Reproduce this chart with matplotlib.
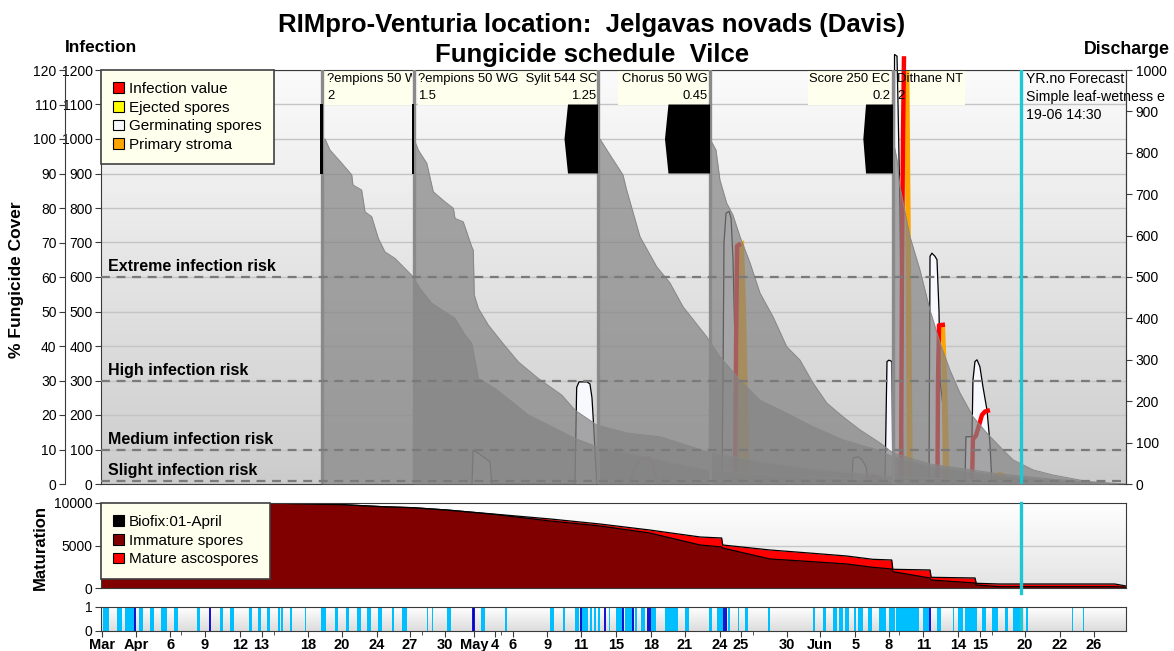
import numpy as np
import matplotlib

matplotlib.use("Agg")
import matplotlib.pyplot as plt
from matplotlib.patches import Rectangle, Patch
from matplotlib.colors import LinearSegmentedColormap

plt.rcParams['font.family'] = ['Liberation Sans', 'DejaVu Sans']

# x axis is in days since 30 March
n_days = 91
tick_days = [0.08, 3.14, 6.14, 9.21, 12.32, 14.26, 18.38, 21.36, 24.5, 27.39, 30.54,
             33.14, 34.98, 36.58, 39.63, 42.63, 45.76, 48.83, 51.83, 54.95, 56.79,
             60.92, 63.83, 66.98, 69.96, 73.01, 76.08, 78.06, 82.03, 85.11, 88.16]
tick_labels = ["Mar", "Apr", "6", "9", "12", "13", "18", "20", "24", "27", "30",
               "May", "4", "6", "9", "11", "15", "18", "21", "24", "25",
               "30", "Jun", "5", "8", "11", "14", "15", "20", "22", "26"]
minor_days = [7.12, 15.39, 28.49, 35.53, 57.86, 70.85, 79.06]
now_day = 81.72

# fungicide applications
app_days = [19.62, 27.79, 44.12, 54.07, 70.31]
# label boxes: (start, end) day
label_boxes = [(19.8, 27.61), (28.15, 44.03), (45.9, 53.98), (62.77, 70.13), (70.49, 76.7)]
# (box index, day, text line 1, text line 2, alignment)
label_texts = [
    (0, 20.06, "?empions 50 WG", "2", "left"),
    (1, 28.14, "?empions 50 WG  Sylit 544 SC", "1.5", "left"),
    (1, 43.95, "", "1.25", "right"),
    (2, 53.9, "Chorus 50 WG", "0.45", "right"),
    (3, 70.05, "Score 250 EC", "0.2", "right"),
    (4, 70.67, "Dithane NT", "2", "left"),
]

# black rain blocks (day, infection-scale value)
rain_blocks = [
    ([19.44, 19.44, 19.67, 19.67], [900, 1100, 1100, 900]),
    ([27.61, 27.61, 27.83, 27.83], [900, 1100, 1100, 900]),
    ([41.46, 41.15, 41.46, 44.12, 44.12], [1100, 1000, 900, 900, 1100]),
    ([50.38, 50.07, 50.38, 54.07, 54.07], [1100, 1000, 900, 900, 1100]),
    ([67.92, 67.68, 67.92, 70.31, 70.31], [1100, 1000, 900, 900, 1100]),
]

# fungicide cover (%) after each application
cover1_day = [19.62, 19.89, 20.33, 21.37, 22.26, 22.37, 23.14, 23.44, 24.03, 24.62, 25.21,
              26.10, 27.28, 27.70, 28.32, 29.36, 30.54, 31.43, 32.32, 32.91, 33.50, 34.98,
              36.46, 37.94, 39.42, 42.08, 44.03, 48.74, 53.80, 62.06, 70.93, 79.81, 84.25]
cover1_pct = [100, 100, 96.8, 93.0, 89.6, 86.7, 85.2, 78.9, 77.5, 71.2, 67.3,
              65.4, 61.5, 60.1, 56.7, 52.4, 49.9, 48.0, 43.2, 40.8, 30.6, 27.7,
              23.9, 20.0, 17.6, 13.2, 10.8, 7.5, 4.1, 2.0, 0.9, 0.3, 0]
cover2_day = [27.79, 28.17, 28.92, 29.50, 30.54, 31.28, 31.43, 32.16, 32.91, 33.05, 33.14,
              33.50, 34.38, 35.57, 37.05, 38.82, 40.90, 42.08, 44.01, 46.67, 49.63, 53.77,
              58.5, 63.83, 70.93, 79.81, 86.9]
cover2_pct = [100, 96.8, 93.0, 84.7, 81.8, 79.9, 77.0, 76.0, 68.8, 67.8, 54.8,
              50.9, 46.1, 41.2, 35.4, 30.6, 25.8, 21.4, 17.1, 14.8, 13.7, 9.4,
              6.4, 4.1, 2.0, 0.9, 0]
cover3_day = [44.12, 44.30, 45.19, 46.34, 46.67, 47.85, 49.33, 50.51, 51.67, 53.77, 54.95,
              56.73, 58.50, 60.88, 63.21, 65.87, 68.87, 70.31, 73.6, 79.81, 85.14, 90.47]
cover3_pct = [100, 100, 95.4, 89.6, 85.2, 71.7, 63.0, 58.3, 51.4, 42.7, 36.9,
              30.1, 24.3, 20.5, 16.6, 12.8, 9.9, 7.9, 5.2, 2.3, 0.9, 0]
cover4_day = [54.07, 54.6, 54.95, 55.55, 56.1, 56.73, 57.62, 58.5, 59.66, 60.88, 62.06,
              63.21, 64.43, 65.87, 67.38, 69.16, 70.31, 73.6, 79.8, 85.1, 91]
cover4_pct = [100, 96.8, 88.1, 81.4, 78, 71.7, 64.1, 55.4, 48.5, 39.8, 35.9,
              29.3, 23.5, 19.5, 15.7, 11.9, 9.0, 5.8, 2.9, 1.2, 0]
cover5_day = [70.31, 70.67, 70.93, 71.82, 72.71, 73.60, 74.49, 75.37, 76.26, 77.42, 78.63,
              79.81, 80.97, 82.74, 84.52, 87.8, 89.6]
cover5_pct = [100, 93.9, 86.2, 71.7, 62.0, 50.4, 40.9, 33.0, 26.4, 19.5, 14.8,
              10.8, 7.0, 4.1, 2.6, 0.6, 0]

# germinating spores
germ_day = [32.94, 33.03, 33.50, 34.54, 34.69,
            42.08, 42.23, 42.44, 43.15, 43.41, 43.59, 43.77, 44.01,
            55.13, 55.22, 55.31, 55.49, 55.76, 55.94, 56.11, 56.29, 56.47,
            66.67, 66.76, 67.21, 67.56, 67.92, 68.09,
            69.60, 69.78, 69.96, 70.22, 70.31,
            70.40, 70.45, 70.67, 70.76, 70.93, 71.20,
            73.51, 73.60, 73.77, 74.04, 74.22, 74.40, 74.49, 75.02, 75.20,
            76.70, 76.79, 77.33, 77.41, 77.59, 77.77, 78.03, 78.30, 78.66, 78.92, 79.10]
germ_val = [0, 98, 89, 65, 0,
            0, 280, 296, 296, 290, 250, 150, 0,
            0, 300, 700, 785, 790, 770, 650, 400, 0,
            0, 75, 79, 70, 50, 0,
            0, 355, 359, 355, 0,
            0, 1245, 1240, 1100, 800, 0,
            0, 660, 669, 660, 650, 500, 300, 150, 0,
            0, 137, 137, 300, 355, 360, 340, 282, 214, 119, 0]

# infection value
nan = np.nan
red_day = [56.29, 56.38, 56.47, 56.82, nan, 71.02, 71.11, 71.20, 71.29, nan,
           74.26, 74.31, 74.40, 74.93, nan, 77.33, 77.41, 77.68, 77.95, 78.21, 78.48, 78.92]
red_val = [0, 400, 690, 697, nan, 0, 600, 1000, 1240, nan,
           0, 300, 460, 462, nan, 0, 130, 140, 170, 200, 210, 214]
red_small_day = [47.0, 47.3, 47.8, 48.6, 49.0, 49.4, nan, 68.2, 68.5, 68.9, 69.2]
red_small_val = [0, 40, 70, 78, 60, 0, nan, 0, 25, 22, 0]

# primary stroma
stroma = [
    ([56.55, 56.55, 57.09, 57.26, 57.44, 57.62], [0, 693, 707, 525, 235, 0]),
    ([71.33, 71.77, 72.08, 71.55], [1200, 1200, 0, 0]),
    ([74.57, 74.93, 75.13, 75.31, 75.33, 74.75], [461, 461, 301, 41, 0, 0]),
    ([79.19, 79.37, 79.81, 80.26, 80.52], [0, 30, 35, 30, 0]),
]

risk_levels = [600, 300, 100, 10]
risk_names = ["Extreme infection risk", "High infection risk",
              "Medium infection risk", "Slight infection risk"]

# maturation
mat_day = [0, 14.8, 14.83, 21.5, 25.0, 27.7, 30.7, 33.0, 34.8, 39.9, 44.3, 48.7, 53.2,
           55.1, 55.2, 59.4, 63.2, 66.2, 68.5, 70.2, 70.3, 73.6, 73.7, 77.6, 77.7,
           79.8, 90.0, 91]
mat_total = [1330, 1330, 10000, 9800, 9565, 9447, 9176, 8906, 8706, 8118, 7529, 6824, 6000,
             5882, 5059, 4471, 4082, 3765, 3376, 3294, 2200, 2118, 1259, 1176, 553,
             470, 470, 235]
mat_immature = [1330, 1330, 10000, 9800, 9565, 9447, 9176, 8906, 8670, 7882, 7294, 6471, 5059,
                4824, 4700, 3412, 3094, 2824, 2435, 2235, 1918, 1176, 941, 588, 353,
                153, 153, 82]

# leaf wetness (start, end) in days
wet_spans = [(0.14, 0.75), (1.46, 1.86), (2.16, 2.99), (3.37, 3.69), (4.35, 4.71), (5.33, 5.83),
             (6.45, 6.82), (8.50, 8.81), (10.55, 10.86), (11.41, 11.81), (13.18, 13.40),
             (13.92, 14.22), (14.77, 14.96), (15.75, 15.85), (16.00, 16.15), (16.76, 16.92),
             (18.08, 18.20), (19.55, 19.97), (20.75, 21.04), (21.75, 22.03), (22.73, 23.04),
             (23.65, 23.96), (24.57, 24.94), (25.80, 25.98), (26.71, 27.18), (28.94, 29.07),
             (29.38, 29.50), (30.69, 31.09), (33.75, 34.12), (35.89, 36.04), (39.82, 40.24),
             (40.98, 41.17), (42.08, 42.48), (42.69, 43.24), (43.41, 43.55), (43.77, 43.92),
             (44.10, 44.26), (45.08, 45.21), (45.76, 46.31), (46.55, 47.23), (47.45, 47.60),
             (47.98, 48.28), (48.83, 49.26), (50.05, 51.22), (51.83, 52.20), (53.98, 54.28),
             (54.70, 55.26), (55.63, 55.81), (56.55, 56.67), (57.16, 57.40), (59.18, 59.39),
             (63.21, 63.37), (64.13, 64.38), (65.00, 65.31), (65.54, 65.91), (66.03, 66.43),
             (66.83, 67.05), (67.20, 67.66), (68.06, 68.42), (69.03, 69.65), (69.96, 70.47),
             (70.57, 72.65), (73.01, 73.47), (74.18, 74.55), (75.62, 75.77), (76.07, 76.54),
             (76.69, 77.76), (78.21, 78.59), (79.14, 79.60), (80.30, 80.51), (80.97, 81.65),
             (82.14, 82.29), (86.24, 86.33), (87.19, 87.28)]
wet_dark = [3.02, 9.66, 33.05, 33.15, 42.58, 44.72, 46.37, 47.23, 48.6, 48.7, 55.3, 55.5, 73.6]

W, H = 1174, 651


def box(l, t, r, b):
    return [l / W, 1 - b / H, (r - l) / W, (b - t) / H]


def gradient(a, top, bottom, y0, y1):
    cmap = LinearSegmentedColormap.from_list("bg", [bottom, top])
    a.imshow(np.linspace(1, 0, 256).reshape(-1, 1), cmap=cmap, aspect="auto",
             extent=[0, n_days, y0, y1], zorder=0, interpolation="bilinear")


def small_legend(a, colors, names):
    lg = a.legend([Patch(fc=c, ec="black", lw=0.8) for c in colors], names,
                  loc="upper left", bbox_to_anchor=(0, 1), borderaxespad=0, fancybox=False,
                  framealpha=1, facecolor="#FFFFEE", edgecolor="#404040", fontsize=11,
                  handlelength=0.72, handleheight=0.72, handletextpad=0.3, labelspacing=0.3,
                  borderpad=0.8)
    lg.get_frame().set_linewidth(1.2)
    lg.set_zorder(10)
    return lg


fig = plt.figure(figsize=(W / 100, H / 100), dpi=100)
ax = fig.add_axes(box(101, 70, 1126, 484))
ax_mat = fig.add_axes(box(101, 503, 1126, 588))
ax_wet = fig.add_axes(box(101, 607, 1126, 631))

spine_col = "#3a3a3a"
cyan = "#1EC8D2"

# ---------------- main panel
gradient(ax, "#FBFBFB", "#CCCCCC", 0, 1200)
ax.set_axisbelow(True)
ax.grid(True, axis="y", color="#C4C4C4", lw=1)

box_patches = []
for x0, x1 in label_boxes:
    r = Rectangle((x0, 1100), x1 - x0, 100, fc="#FFFFEE", ec="none", zorder=1.5)
    ax.add_patch(r)
    box_patches.append(r)

scale = 1200 / 120
ax.fill_between(germ_day, germ_val, color="#F8F8FF", lw=0, zorder=2.1).set_clip_on(False)
ax.plot(germ_day, germ_val, color="black", lw=0.9, zorder=2.2, clip_on=False)
for d, v in stroma:
    ax.fill(d, v, color="#FFA500", lw=0, zorder=2.3)
ax.plot(red_small_day, red_small_val, color="red", lw=1.2, zorder=2.4)
ax.plot(red_day, red_val, color="red", lw=3.2, zorder=2.5, clip_on=False, solid_capstyle="butt")

for d, p in [(cover1_day, cover1_pct), (cover2_day, cover2_pct), (cover3_day, cover3_pct),
             (cover4_day, cover4_pct), (cover5_day, cover5_pct)]:
    v = np.array(p) * scale
    ax.fill_between(d, v, color="#848484", alpha=0.71, lw=0, zorder=3)
    ax.plot(d, v, color="#888888", lw=0.7, zorder=3.1)

for d in app_days:
    ax.axvline(d, color="#8A8A8A", lw=2.4, zorder=4)
for d, v in rain_blocks:
    ax.fill(d, v, color="black", lw=0, zorder=4.1)

for lvl, name in zip(risk_levels, risk_names):
    ax.axhline(lvl, color="#7A7A7A", lw=1.6, ls=(0, (4, 3)), zorder=5)
    ax.text(0.6, lvl + 8, name, fontsize=11.5, fontweight="bold", va="bottom", zorder=5)

for i, d, t1, t2, ha in label_texts:
    for y, t in [(1174, t1), (1125, t2)]:
        txt = ax.text(d, y, t, fontsize=9.4, ha=ha, va="center", zorder=6)
        txt.set_clip_on(True)
        txt.set_clip_path(box_patches[i])

ax.axvline(now_day, color=cyan, lw=2.4, zorder=6)
for y, t in [(1174, "YR.no Forecast"), (1122, "Simple leaf-wetness e"), (1070, "19-06 14:30")]:
    ax.text(now_day + 0.4, y, t, fontsize=10.2, va="center", zorder=6)

small_legend(ax, ["red", "yellow", "#F8F8FF", "#FFA500"],
             ["Infection value", "Ejected spores", "Germinating spores", "Primary stroma"])

ax.set_xlim(0, n_days)
ax.set_ylim(0, 1200)
ax.set_xticks([])
ax.set_yticks(range(0, 1201, 100))
ax.tick_params(axis="y", length=4, labelsize=10, pad=2, color=spine_col)
for s in ax.spines.values():
    s.set_color(spine_col)

ax_pct = ax.twinx()
ax_pct.set_ylim(0, 120)
ax_pct.set_yticks(range(0, 121, 10))
ax_pct.yaxis.tick_left()
ax_pct.spines["left"].set_position(("outward", 26))
ax_pct.spines["left"].set_visible(True)
ax_pct.spines["left"].set_color(spine_col)
for k in ["right", "top", "bottom"]:
    ax_pct.spines[k].set_visible(False)
ax_pct.tick_params(axis="y", length=4, labelsize=10, pad=2, color=spine_col)

ax_r = ax.twinx()
ax_r.set_ylim(0, 1000)
ax_r.set_yticks(range(0, 1001, 100))
for k in ["left", "top", "bottom"]:
    ax_r.spines[k].set_visible(False)
ax_r.spines["right"].set_color(spine_col)
ax_r.tick_params(axis="y", length=4, labelsize=10, pad=3, color=spine_col)

# ---------------- maturation panel
gradient(ax_mat, "#FFFFFF", "#E4E4E4", 0, 10000)
ax_mat.axhline(5000, color="#C8C8C8", lw=1, zorder=0.5)
ax_mat.fill_between(mat_day, mat_total, color="red", lw=0, zorder=2)
ax_mat.fill_between(mat_day, mat_immature, color="#800000", lw=0, zorder=2.1)
ax_mat.plot(mat_day, mat_total, color="black", lw=0.9, zorder=2.2)
ax_mat.plot(mat_day, mat_immature, color="black", lw=0.9, zorder=2.2)
ax_mat.axvline(now_day, ymin=-0.06, ymax=1, color=cyan, lw=2.4, zorder=3, clip_on=False)
small_legend(ax_mat, ["black", "#800000", "red"],
             ["Biofix:01-April", "Immature spores", "Mature ascospores"])
ax_mat.set_xlim(0, n_days)
ax_mat.set_ylim(0, 10000)
ax_mat.set_xticks([])
ax_mat.set_yticks([0, 5000, 10000])
ax_mat.tick_params(axis="y", length=4, labelsize=10, pad=2, color=spine_col)
for s in ax_mat.spines.values():
    s.set_color(spine_col)

# ---------------- wetness panel
gradient(ax_wet, "#FFFFFF", "#DCDCDC", 0, 1)
ax_wet.broken_barh([(a, b - a) for a, b in wet_spans], (0, 1), color="#00BFFF", lw=0, zorder=1)
for d in wet_dark:
    ax_wet.axvline(d, color="#0000CD", lw=1.3, zorder=1.5)
ax_wet.axvline(now_day, color=cyan, lw=2.4, zorder=2)
ax_wet.set_xlim(0, n_days)
ax_wet.set_ylim(0, 1)
ax_wet.set_yticks([0, 1])
ax_wet.set_xticks(tick_days)
ax_wet.set_xticklabels(tick_labels, fontsize=10.5, fontweight="bold")
ax_wet.set_xticks(minor_days, minor=True)
ax_wet.tick_params(axis="x", which="major", length=4, pad=1, color=spine_col)
ax_wet.tick_params(axis="x", which="minor", length=3, color=spine_col)
ax_wet.tick_params(axis="y", length=4, labelsize=10, pad=2, color=spine_col)
for s in ax_wet.spines.values():
    s.set_color(spine_col)

# ---------------- titles
fig.text(592 / W, 1 - 25 / H, "RIMpro-Venturia location:  Jelgavas novads (Davis)",
         ha="center", va="center", fontsize=18.5, fontweight="bold")
fig.text(592 / W, 1 - 55 / H, "Fungicide schedule  Vilce",
         ha="center", va="center", fontsize=18.5, fontweight="bold")
fig.text(65 / W, 1 - 48 / H, "Infection", ha="left", va="center", fontsize=12.5, fontweight="bold")
fig.text(1170 / W, 1 - 49 / H, "Discharge", ha="right", va="center", fontsize=12.8,
         fontweight="bold")
fig.text(17 / W, 1 - 280 / H, "% Fungicide Cover", rotation=90, ha="center", va="center",
         fontsize=12.5, fontweight="bold")
fig.text(40 / W, 1 - 547 / H, "Maturation", rotation=90, ha="center", va="center",
         fontsize=12, fontweight="bold")

fig.savefig("out.png", dpi=100)
